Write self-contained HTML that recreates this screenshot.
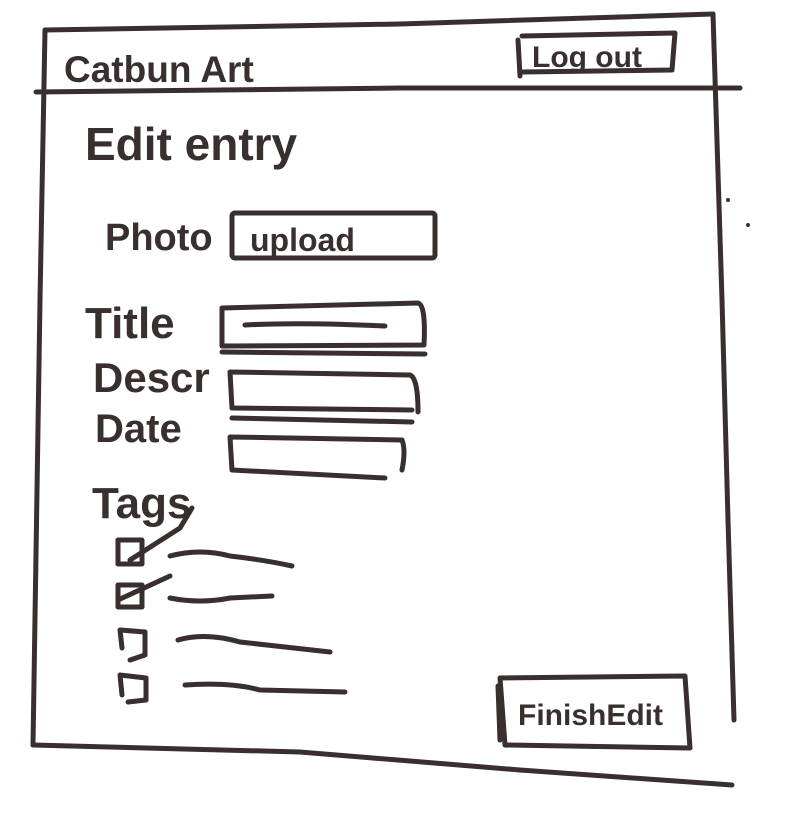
<!DOCTYPE html>
<html><head><meta charset="utf-8"><style>
html,body{margin:0;padding:0;background:#fff;}
svg{display:block}
text{font-family:"Liberation Sans",sans-serif;fill:#3a2f2f;font-weight:bold;}
</style></head><body>
<svg width="800" height="820" viewBox="0 0 800 820" xmlns="http://www.w3.org/2000/svg">
<g fill="none" stroke="#3a2f2f" stroke-width="5" stroke-linecap="round" stroke-linejoin="round">
<path d="M45 30 L400 24 L713 14"/>
<path d="M45 30 L40 300 L33 745"/>
<path d="M713 14 L722 300 L728 520 L734 720"/>
<path d="M33 745 L300 752 L520 770 L732 785"/>
<path d="M36 92 L400 88 L740 88"/>
<path d="M518 40 L520 76 M522 36 L675 33 L672 70 L522 72"/>
<rect x="232" y="213" width="203" height="45" rx="3"/>
<path d="M222 308 L418 303 Q426 305 424 345 L222 346 Z"/>
<path d="M222 352 L425 354"/>
<path d="M245 325 Q300 322 385 326"/>
<path d="M230 372 L410 375 Q418 378 418 412 M230 372 L232 408 L412 410 M232 418 L412 422"/>
<path d="M230 437 L402 440 Q406 450 402 470 M230 437 L232 470 L385 478"/>
<rect x="118" y="540" width="24" height="24"/>
<path d="M130 560 L180 528 L192 508"/>
<rect x="118" y="585" width="24" height="22"/>
<path d="M118 600 L170 576"/>
<path d="M120 630 L145 632 L145 655 L130 660 M120 630 L122 648"/>
<path d="M120 675 L146 678 L146 700 L128 702 M120 675 L122 695"/>
<path d="M170 556 Q200 548 230 556 Q265 560 292 566"/>
<path d="M170 598 Q200 604 230 598 L272 596"/>
<path d="M178 640 Q205 632 240 642 L330 652"/>
<path d="M185 685 Q230 682 260 690 L345 692"/>
<path d="M500 678 L685 676 L690 748 L505 745 Z"/>
<path d="M498 686 L500 740"/>
</g>
<text x="64" y="82" font-size="37">Catbun Art</text>
<text x="532" y="67" font-size="30">Log out</text>
<text x="85" y="160" font-size="46">Edit entry</text>
<text x="105" y="250" font-size="38">Photo</text>
<text x="250" y="251" font-size="32">upload</text>
<text x="85" y="338" font-size="44">Title</text>
<text x="93" y="392" font-size="42">Descr</text>
<text x="95" y="442" font-size="40">Date</text>
<text x="92" y="518" font-size="44">Tags</text>
<text x="518" y="725" font-size="30">FinishEdit</text>
<circle cx="728" cy="200" r="2" fill="#3a2f2f"/>
<circle cx="748" cy="225" r="2" fill="#3a2f2f"/>
</svg>
</body></html>
